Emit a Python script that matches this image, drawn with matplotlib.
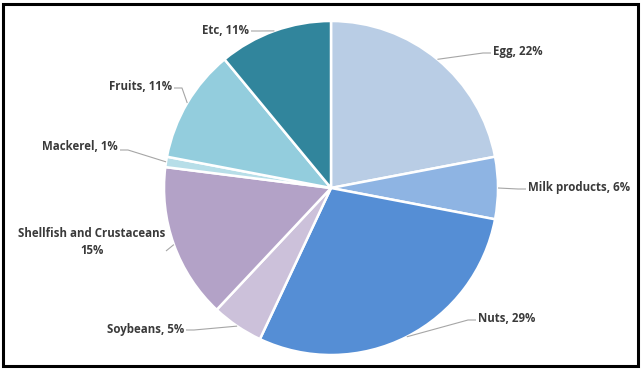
import numpy as np
import matplotlib.pyplot as plt
from matplotlib.patches import Rectangle

# allergen shares (%)
labels = ['Egg', 'Milk products', 'Nuts', 'Soybeans', 'Shellfish and Crustaceans',
          'Mackerel', 'Fruits', 'Etc']
shares = [22, 6, 29, 5, 15, 1, 11, 11]
colors = ['#B9CDE5', '#8EB4E3', '#558ED5', '#CCC1DA', '#B3A2C7',
          '#B7DEE8', '#93CDDD', '#31859C']

# label layout in pixels from top-left: text x, text y, ha, leader end x, end y
label_pos = [
    (493, 52, 'left', 491, 53),
    (528, 188, 'left', 526, 189),
    (478, 319, 'left', 476, 320),
    (184, 329, 'right', 186, 330),
    (92, 242, 'center', 166, 251),
    (118, 147, 'right', 120, 150),
    (172, 86, 'right', 174, 88),
    (249, 30, 'right', 251, 31),
]

W, H = 643, 370
cx, cy, R = 331, 188, 167

fig = plt.figure(figsize=(W / 100, H / 100), dpi=100)
ax = fig.add_axes([0, 0, 1, 1])

wedges, _ = ax.pie(shares, colors=colors, startangle=90, counterclock=False,
                   center=(cx, H - cy), radius=R,
                   wedgeprops=dict(edgecolor='white', linewidth=1.8))
ax.set_xlim(0, W)
ax.set_ylim(0, H)
ax.set_aspect('equal')
ax.axis('off')

for w, lab, val, pos in zip(wedges, labels, shares, label_pos):
    tx, ty, ha, ex, ey = pos
    mid = np.deg2rad((w.theta1 + w.theta2) / 2)
    sx = cx + R * np.cos(mid)
    sy = (H - cy) + R * np.sin(mid)
    # short horizontal run at the label, then diagonal to the slice
    step = -8 if ha == 'left' else 8
    if ha == 'center':
        step = 0
    ax.plot([ex, ex + step, sx], [H - ey, H - ey, sy], color='#A6A6A6', lw=0.8,
            solid_capstyle='butt')
    if lab.startswith('Shellfish'):
        txt = lab + '\n' + str(val) + '%'
    else:
        txt = lab + ', ' + str(val) + '%'
    ax.text(tx, H - ty, txt, ha=ha, va='center', fontsize=8.3, color='#3A3A3A',
            family='Open Sans', fontweight='bold', linespacing=1.35)

# outer frame
fig.patches.append(Rectangle((3 / W, 4 / H), 635 / W, 362 / H, transform=fig.transFigure,
                             fill=False, edgecolor='black', lw=2.2))

fig.savefig('out.png', dpi=100, facecolor='white')
